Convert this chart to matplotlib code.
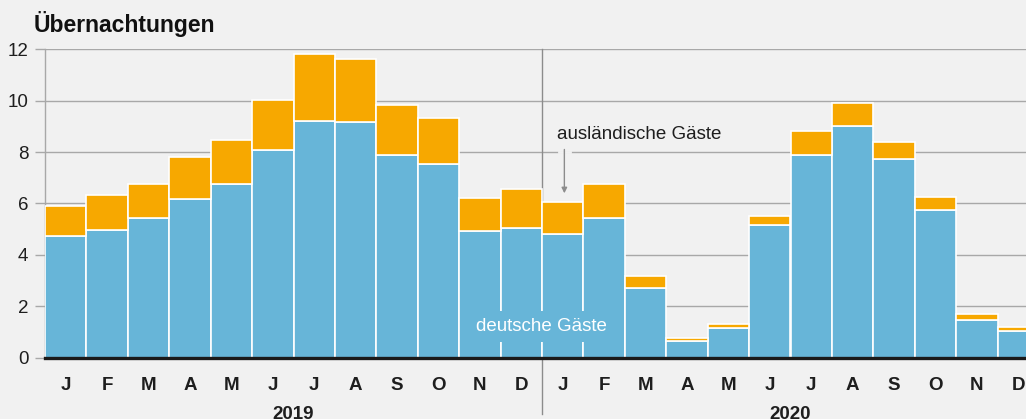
import matplotlib
matplotlib.use("Agg")
import matplotlib.pyplot as plt
import numpy as np

plt.rcParams['font.family'] = ['Liberation Sans', 'DejaVu Sans']

months = ["J", "F", "M", "A", "M", "J", "J", "A", "S", "O", "N", "D"]
years = ["2019", "2020"]
deutsche = [4.72, 4.97, 5.45, 6.16, 6.74, 8.09, 9.20, 9.16, 7.89, 7.55, 4.94, 5.03,
            4.80, 5.42, 2.70, 0.64, 1.14, 5.16, 7.87, 9.00, 7.72, 5.75, 1.47, 1.05]
gesamt = [5.90, 6.34, 6.77, 7.82, 8.47, 10.01, 11.83, 11.61, 9.84, 9.31, 6.21, 6.56,
          6.07, 6.77, 3.18, 0.78, 1.30, 5.53, 8.81, 9.90, 8.39, 6.24, 1.70, 1.21]
auslaendisch = [g - d for g, d in zip(gesamt, deutsche)]
yticks = [0, 2, 4, 6, 8, 10, 12]

BG = "#f1f1f1"
BLUE = "#67b5d8"
ORANGE = "#f7a800"
GRID = "#a8a8a8"
TXT = "#1e1e1e"
FS = 13.5

fig = plt.figure(figsize=(10.26, 4.19), dpi=100, facecolor=BG)
ax = fig.add_axes([45/1026, (419-357.7)/419, 994/1026, 308.4/419])
ax.set_facecolor(BG)

n = len(deutsche)
x = np.arange(n)
ax.bar(x, deutsche, width=1, align='edge', color=BLUE, edgecolor='white', linewidth=1.2, zorder=3)
ax.bar(x, auslaendisch, bottom=deutsche, width=1, align='edge', color=ORANGE,
       edgecolor='white', linewidth=1.2, zorder=3)

ax.set_xlim(0, n)
ax.set_ylim(0, 12)
ax.set_yticks(yticks)
ax.set_yticklabels([str(t) for t in yticks], fontsize=FS, color=TXT)
ax.yaxis.grid(True, color=GRID, linewidth=1, zorder=0)
ax.set_axisbelow(True)
ax.tick_params(axis='y', length=7, color=GRID, width=1, pad=5)

ax.set_xticks(x + 0.5)
ax.set_xticklabels(months * 2, fontsize=FS, fontweight='bold', color=TXT)
ax.tick_params(axis='x', length=0, pad=14)

for s in ['top', 'right']:
    ax.spines[s].set_visible(False)
ax.spines['left'].set_color(GRID)
ax.spines['left'].set_linewidth(1)
ax.spines['bottom'].set_color("#1a1a1a")
ax.spines['bottom'].set_linewidth(2.4)
ax.spines['bottom'].set_zorder(5)

# year divider
ax.plot([12, 12], [-2.2, 12], color="#8c8c8c", linewidth=1, clip_on=False, zorder=1)

# year labels
for i, yr in enumerate(years):
    ax.text(6 + 12 * i, -2.37, yr, ha='center', va='baseline', fontsize=FS,
            fontweight='bold', color=TXT, clip_on=False)

fig.text(34/1026, 1 - 31.5/419, "Übernachtungen", fontsize=16.5, fontweight='bold',
         color="#111111", ha='left', va='baseline')

# annotations
ax.text(10.41, 1.23, "deutsche Gäste", ha='left', va='center', fontsize=FS, color='white',
        zorder=6, bbox=dict(facecolor=BLUE, edgecolor='none', pad=5))
ax.annotate("", xy=(12.54, 6.29), xytext=(12.54, 8.21),
            arrowprops=dict(arrowstyle='-|>', color="#8c8c8c", lw=1, mutation_scale=8),
            zorder=4)
ax.plot([12.41, 12.67], [8, 8], color=BG, linewidth=2, zorder=1)
ax.text(12.36, 8.68, "ausländische Gäste", ha='left', va='center', fontsize=FS,
        color=TXT, zorder=6)

fig.savefig("out.png", dpi=100, facecolor=BG)
